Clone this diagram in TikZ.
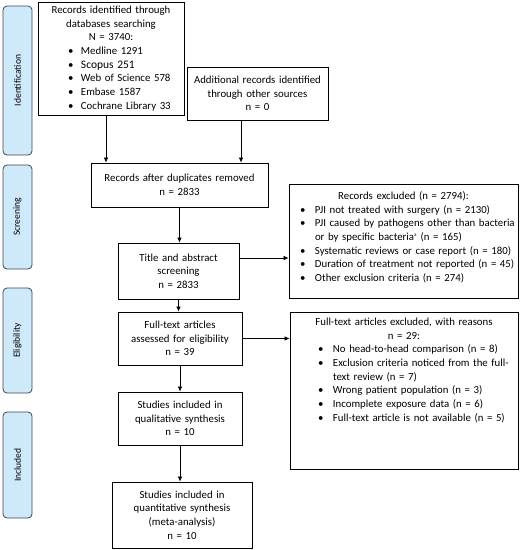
\documentclass[tikz,border=0pt]{standalone}
\usepackage{fontspec}
\setmainfont{Carlito}
\usetikzlibrary{arrows.meta}
\definecolor{phasefill}{RGB}{205,233,250}
\definecolor{phaseline}{RGB}{60,70,85}
\newcommand{\pitem}[3]{\makebox[\hsize][l]{\hspace*{#1}\makebox[#2][l]{\textbullet}#3}}
\newcommand{\pcont}[3]{\makebox[\hsize][l]{\hspace*{#1}\hspace*{#2}#3}}

\begin{document}
\begin{tikzpicture}[x=10pt,y=10pt]
\tikzstyle{every node}+=[inner sep=0pt]
\tikzstyle{box}=[draw=black, line width=0.8pt, align=center, font=\fontsize{10.8}{13.7}\selectfont]
\tikzstyle{phase}=[draw=phaseline, fill=phasefill, line width=0.8pt, rounded corners=4pt, minimum height=29pt, font=\fontsize{9.5}{11}\selectfont]
\tikzstyle{arr}=[-{Latex[length=5pt,width=4.5pt]}, line width=0.7pt]
\useasboundingbox (0,0) rectangle (52,-55);
\node [phase, rotate=90, minimum width=149pt] (idph) at (1.75,-8.05) {Identification};
\node [phase, rotate=90, minimum width=104pt] (scph) at (1.75,-21.7) {Screening};
\node [phase, rotate=90, minimum width=105pt] (elph) at (1.75,-34.05) {Eligibility};
\node [phase, rotate=90, minimum width=106pt] (inph) at (1.75,-46.5) {Included};
\node [box, text width=146pt, minimum height=113pt] (ident) at (11.1,-5.85) {Records identified through\\ databases searching\\ N = 3740:\\
\pitem{30pt}{13pt}{Medline 1291}\\
\pitem{30pt}{13pt}{\fontsize{11.5}{13.7}\selectfont Scopus 251}\\
\pitem{30pt}{13pt}{Web of Science 578}\\
\pitem{30pt}{13pt}{Embase 1587}\\
\pitem{30pt}{13pt}{Cochrane Library 33}};
\node [box, text width=141pt, minimum height=53pt] (addl) at (25.75,-9.35) {Additional records identified\\ through other sources\\ n = 0};
\node [box, text width=177pt, minimum height=44pt] (dup) at (17.95,-18.5) {Records after duplicates removed\\ n = 2833};
\node [box, text width=121pt, minimum height=56pt] (title) at (17.85,-27.1) {Title and abstract\\ screening\\ n = 2833};
\node [box, text width=124pt, minimum height=53pt] (full) at (18,-33.85) {Full-text articles\\ assessed for eligibility\\ n = 39};
\node [box, text width=124pt, minimum height=53pt] (qual) at (18,-41.85) {Studies included in\\ qualitative synthesis\\ n = 10};
\node [box, text width=140pt, minimum height=66pt] (quant) at (18.2,-51.5) {Studies included in\\ quantitative synthesis\\ (meta-analysis)\\ n = 10};
\node [box, text width=229pt, minimum height=114pt] (excl) at (40.35,-24.1) {Records excluded (n = 2794):\\
\pitem{11pt}{15pt}{PJI not treated with surgery (n = 2130)}\\
\pitem{11pt}{15pt}{PJI caused by pathogens other than bacteria}\\
\pcont{11pt}{15pt}{or by specific bacteria\textsuperscript{\tiny a} (n = 165)}\\
\pitem{11pt}{15pt}{Systematic reviews or case report (n = 180)}\\
\pitem{11pt}{15pt}{Duration of treatment not reported (n = 45)}\\
\pitem{11pt}{15pt}{Other exclusion criteria (n = 274)\rule[-9pt]{0pt}{1pt}}};
\node [box, text width=228pt, minimum height=157pt] (ftexcl) at (40.4,-39.05) {Full-text articles excluded, with reasons\\ n = 29:\\
\pitem{28pt}{15pt}{No head-to-head comparison (n = 8)}\\
\pitem{28pt}{15pt}{Exclusion criteria noticed from the full-}\\
\pcont{28pt}{15pt}{text review (n = 7)}\\
\pitem{28pt}{15pt}{Wrong patient population (n = 3)}\\
\pitem{28pt}{15pt}{Incomplete exposure data (n = 6)}\\
\pitem{28pt}{15pt}{Full-text article is not available (n = 5)\rule[-42pt]{0pt}{1pt}}};
\draw [arr] ([xshift=-5pt]ident.south) -- ([xshift=-5pt]ident.south |- dup.north);
\draw [arr] ([xshift=-16.5pt]addl.south) -- ([xshift=-16.5pt]addl.south |- dup.north);
\draw [arr] (dup.south) -- (dup.south |- title.north);
\draw [arr] ([yshift=13pt]title.east) -- ([yshift=13pt]title.east -| excl.west);
\draw [arr] (title.south) -- (title.south |- full.north);
\draw [arr] (full.east) -- (full.east -| ftexcl.west);
\draw [arr] (full.south) -- (full.south |- qual.north);
\draw [arr] (qual.south) -- (qual.south |- quant.north);
\end{tikzpicture}
\end{document}
